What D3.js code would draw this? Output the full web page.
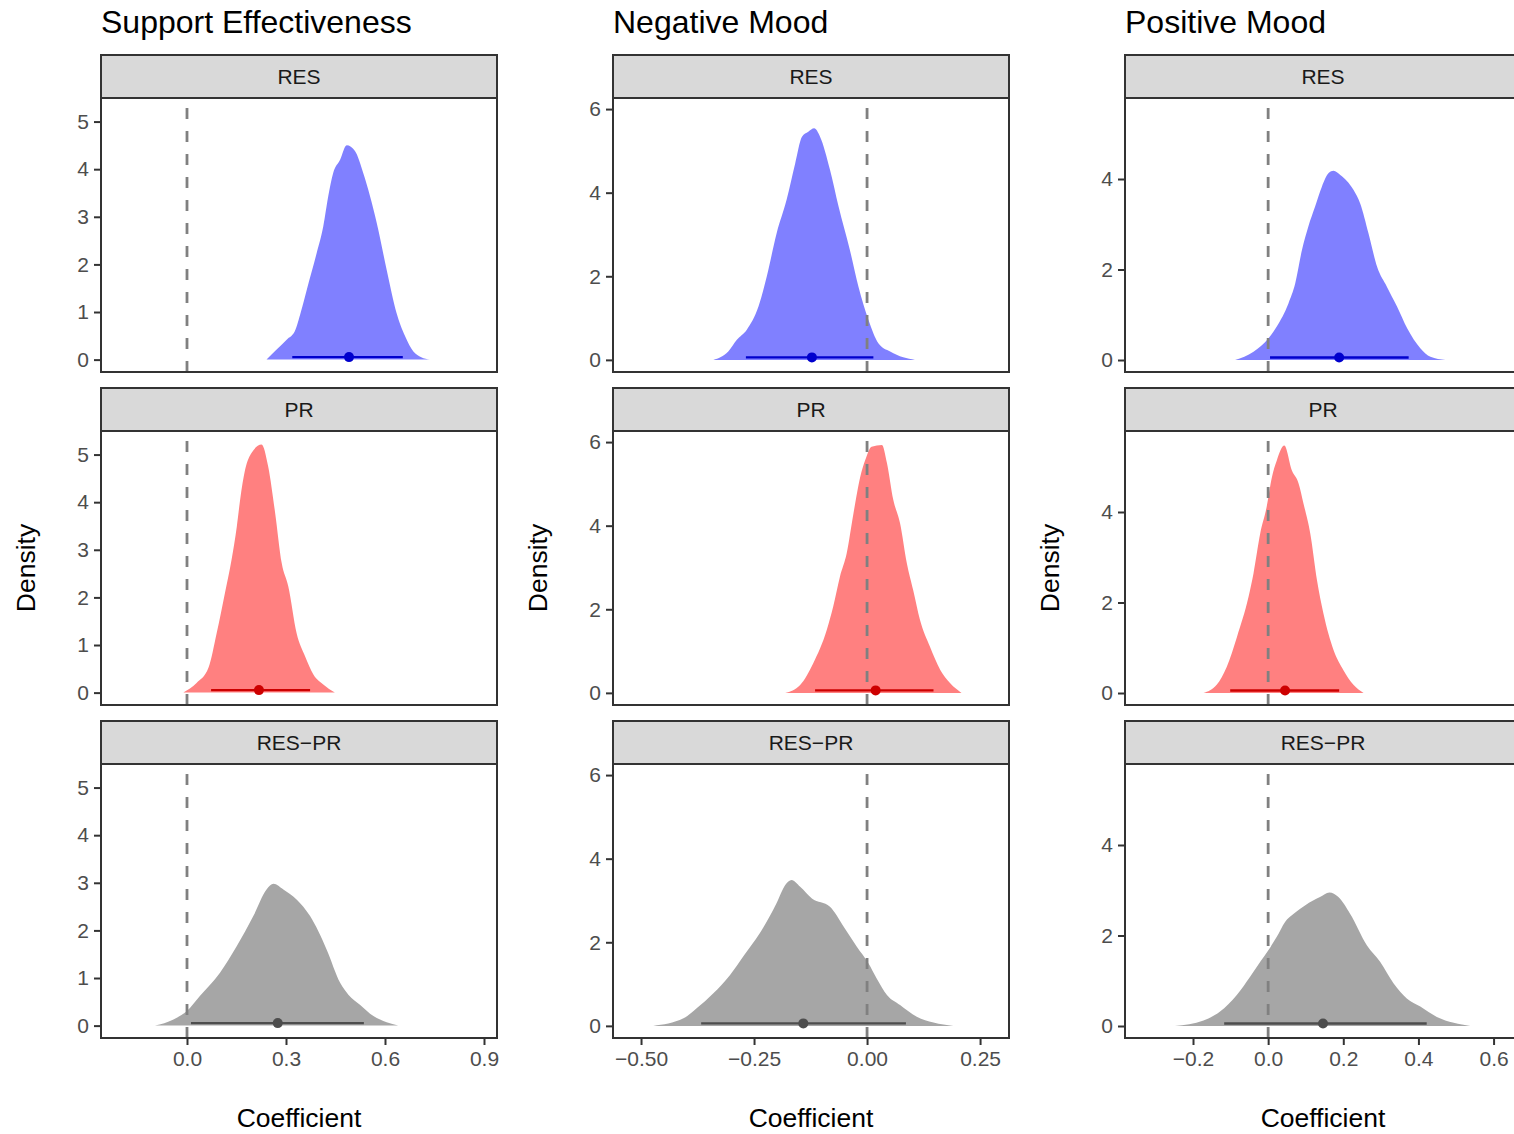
<!DOCTYPE html>
<html>
<head>
<meta charset="utf-8">
<script src="https://cdn.jsdelivr.net/npm/d3@7"></script>
<style>
  html, body { margin: 0; padding: 0; background: #fff; }
  svg { display: block; font-family: "Liberation Sans", Arial, Helvetica, sans-serif; }
</style>
</head>
<body>
<div id="container"></div>
<script>
// chart values
var measures = ["Support Effectiveness", "Negative Mood", "Positive Mood"];
var contrasts = ["RES", "PR", "RES\u2212PR"];

var xDomains = [[-0.2606, 0.9394], [-0.562, 0.314], [-0.381, 0.673]];
var yDomains = [[-0.26, 5.495], [-0.29, 6.265], [-0.265, 5.79]];
var xTicks = [[0, 0.3, 0.6, 0.9], [-0.5, -0.25, 0, 0.25], [-0.2, 0, 0.2, 0.4, 0.6]];
var xTickLabels = [["0.0", "0.3", "0.6", "0.9"], ["\u22120.50", "\u22120.25", "0.00", "0.25"], ["\u22120.2", "0.0", "0.2", "0.4", "0.6"]];
var yTicks = [[0, 1, 2, 3, 4, 5], [0, 2, 4, 6], [0, 2, 4]];

// density curves: [coefficient, density]
var seRES = [[0.241, 0], [0.27, 0.2], [0.302, 0.42], [0.327, 0.6], [0.345, 1.0], [0.363, 1.47], [0.393, 2.24], [0.413, 2.8], [0.428, 3.43],
  [0.443, 3.92], [0.464, 4.2], [0.484, 4.5], [0.509, 4.38], [0.534, 3.92], [0.575, 2.87], [0.605, 1.89], [0.635, 0.98],
  [0.661, 0.49], [0.686, 0.17], [0.71, 0.05], [0.736, 0]];
var sePR = [[-0.011, 0], [0.029, 0.2], [0.065, 0.52], [0.09, 1.25], [0.115, 2.09], [0.135, 2.79], [0.151, 3.49], [0.161, 4.05],
  [0.176, 4.68], [0.196, 5.04], [0.226, 5.21], [0.246, 4.75], [0.267, 3.78], [0.287, 2.72], [0.307, 2.23], [0.332, 1.25],
  [0.358, 0.76], [0.383, 0.38], [0.413, 0.17], [0.448, 0]];
var seDiff = [[-0.097, 0], [-0.041, 0.13], [-0.001, 0.3], [0.039, 0.62], [0.1, 1.11], [0.151, 1.67], [0.201, 2.3], [0.241, 2.86],
  [0.262, 2.98], [0.292, 2.86], [0.332, 2.65], [0.373, 2.3], [0.423, 1.6], [0.464, 0.9], [0.489, 0.65], [0.524, 0.44],
  [0.565, 0.2], [0.605, 0.07], [0.64, 0]];

var nmRES = [[-0.34, 0], [-0.307, 0.2], [-0.288, 0.48], [-0.266, 0.72], [-0.24, 1.28], [-0.222, 1.99], [-0.2, 3.03], [-0.178, 3.83],
  [-0.159, 4.7], [-0.144, 5.34], [-0.13, 5.46], [-0.117, 5.54], [-0.104, 5.34], [-0.082, 4.55], [-0.063, 3.67], [-0.038, 2.63],
  [-0.019, 1.75], [0.003, 0.96], [0.025, 0.4], [0.051, 0.2], [0.08, 0.06], [0.106, 0]];
var nmPR = [[-0.181, 0], [-0.148, 0.19], [-0.119, 0.71], [-0.089, 1.51], [-0.075, 2.06], [-0.06, 2.78], [-0.045, 3.34], [-0.03, 4.3],
  [-0.015, 5.17], [-0.004, 5.57], [0.01, 5.89], [0.033, 5.93], [0.044, 5.5], [0.058, 4.62], [0.073, 4.06], [0.088, 3.1],
  [0.102, 2.46], [0.117, 1.75], [0.139, 1.11], [0.162, 0.55], [0.184, 0.23], [0.209, 0]];
var nmDiff = [[-0.473, 0], [-0.406, 0.18], [-0.377, 0.42], [-0.34, 0.78], [-0.303, 1.22], [-0.274, 1.66], [-0.237, 2.22], [-0.2, 2.94],
  [-0.181, 3.37], [-0.167, 3.49], [-0.148, 3.33], [-0.122, 3.05], [-0.082, 2.85], [-0.052, 2.38], [-0.023, 1.9], [0.003, 1.5],
  [0.021, 1.14], [0.044, 0.74], [0.073, 0.5], [0.11, 0.22], [0.147, 0.08], [0.191, 0]];

var pmRES = [[-0.088, 0], [-0.039, 0.18], [0.001, 0.48], [0.023, 0.74], [0.054, 1.25], [0.072, 1.69], [0.09, 2.43], [0.107, 2.95],
  [0.125, 3.39], [0.143, 3.83], [0.161, 4.13], [0.174, 4.18], [0.192, 4.09], [0.227, 3.76], [0.245, 3.46], [0.267, 2.8],
  [0.29, 2.06], [0.316, 1.62], [0.343, 1.18], [0.37, 0.7], [0.405, 0.26], [0.432, 0.07], [0.472, 0]];
var pmPR = [[-0.172, 0], [-0.137, 0.18], [-0.11, 0.58], [-0.083, 1.24], [-0.052, 2.13], [-0.039, 2.64], [-0.021, 3.53], [-0.004, 4.11],
  [0.01, 4.77], [0.023, 5.14], [0.043, 5.47], [0.063, 4.92], [0.081, 4.63], [0.094, 4.19], [0.112, 3.53], [0.13, 2.49],
  [0.147, 1.76], [0.174, 0.95], [0.2, 0.51], [0.227, 0.18], [0.254, 0]];
var pmDiff = [[-0.248, 0], [-0.172, 0.12], [-0.128, 0.32], [-0.084, 0.68], [-0.048, 1.09], [-0.021, 1.42], [0.001, 1.68], [0.023, 1.97],
  [0.045, 2.3], [0.068, 2.48], [0.099, 2.67], [0.138, 2.85], [0.163, 2.95], [0.187, 2.85], [0.218, 2.48], [0.263, 1.78],
  [0.298, 1.42], [0.334, 0.94], [0.369, 0.61], [0.405, 0.43], [0.449, 0.2], [0.494, 0.07], [0.538, 0]];

var densities = [[seRES, sePR, seDiff], [nmRES, nmPR, nmDiff], [pmRES, pmPR, pmDiff]];

// intervals: [lower, point, upper]
var seIntervals = [[0.319, 0.491, 0.654], [0.073, 0.218, 0.373], [0.012, 0.275, 0.536]];
var nmIntervals = [[-0.268, -0.122, 0.014], [-0.115, 0.019, 0.147], [-0.367, -0.141, 0.086]];
var pmIntervals = [[0.005, 0.189, 0.374], [-0.101, 0.045, 0.189], [-0.117, 0.146, 0.422]];
var intervals = [seIntervals, nmIntervals, pmIntervals];

var fillColors = ["#8080ff", "#ff8080", "#a6a6a6"];
var lineColors = ["#0000cd", "#cd0000", "#4d4d4d"];

// layout
var width = 1514, height = 1134;
var colX = [101, 613, 1125];
var rowY = [55, 388, 721];
var panelW = 396, stripH = 43, panelH = 274;

var svg = d3.select("#container").append("svg")
  .attr("width", width)
  .attr("height", height)
  .attr("viewBox", "0 0 " + width + " " + height);

svg.append("rect").attr("width", width).attr("height", height).attr("fill", "#fff");

var defs = svg.append("defs");

measures.forEach(function (m, c) {
  var x = d3.scaleLinear().domain(xDomains[c]).range([colX[c], colX[c] + panelW]);

  // column title
  svg.append("text")
    .attr("x", colX[c])
    .attr("y", 33)
    .attr("font-size", 32)
    .attr("fill", "#000")
    .text(m);

  // y axis title
  svg.append("text")
    .attr("transform", "translate(" + (colX[c] - 66) + ",568) rotate(-90)")
    .attr("text-anchor", "middle")
    .attr("font-size", 26.5)
    .attr("fill", "#000")
    .text("Density");

  // x axis title
  svg.append("text")
    .attr("x", colX[c] + panelW / 2)
    .attr("y", 1127)
    .attr("text-anchor", "middle")
    .attr("font-size", 26.5)
    .attr("fill", "#000")
    .text("Coefficient");

  contrasts.forEach(function (k, r) {
    var top = rowY[r] + stripH;
    var y = d3.scaleLinear().domain(yDomains[c]).range([top + panelH, top]);
    var clipId = "clip-" + c + "-" + r;

    defs.append("clipPath").attr("id", clipId)
      .append("rect")
      .attr("x", colX[c]).attr("y", top)
      .attr("width", panelW).attr("height", panelH);

    var g = svg.append("g");
    var inner = g.append("g").attr("clip-path", "url(#" + clipId + ")");

    // density
    var area = d3.area()
      .x(function (d) { return x(d[0]); })
      .y0(y(0))
      .y1(function (d) { return y(d[1]); })
      .curve(d3.curveMonotoneX);

    inner.append("path")
      .datum(densities[c][r])
      .attr("d", area)
      .attr("fill", fillColors[r]);

    // reference line at zero (drawn bottom-up so the dash pattern starts at the bottom)
    inner.append("line")
      .attr("x1", x(0)).attr("x2", x(0))
      .attr("y1", top + panelH).attr("y2", top)
      .attr("stroke", "#808080")
      .attr("stroke-width", 2.8)
      .attr("stroke-dasharray", "11,12");

    // interval + point
    var iv = intervals[c][r];
    var iy = y(0) - 2.5;
    inner.append("line")
      .attr("x1", x(iv[0])).attr("x2", x(iv[2]))
      .attr("y1", iy).attr("y2", iy)
      .attr("stroke", lineColors[r])
      .attr("stroke-width", 2.3);
    inner.append("circle")
      .attr("cx", x(iv[1])).attr("cy", iy)
      .attr("r", 5)
      .attr("fill", lineColors[r]);

    // panel border
    g.append("rect")
      .attr("x", colX[c]).attr("y", top)
      .attr("width", panelW).attr("height", panelH)
      .attr("fill", "none")
      .attr("stroke", "#333")
      .attr("stroke-width", 2);

    // strip
    g.append("rect")
      .attr("x", colX[c]).attr("y", rowY[r])
      .attr("width", panelW).attr("height", stripH)
      .attr("fill", "#d9d9d9")
      .attr("stroke", "#333")
      .attr("stroke-width", 2);
    g.append("text")
      .attr("x", colX[c] + panelW / 2)
      .attr("y", rowY[r] + stripH / 2)
      .attr("dy", "0.36em")
      .attr("text-anchor", "middle")
      .attr("font-size", 21)
      .attr("fill", "#1a1a1a")
      .text(k);

    // y axis
    var yAxis = g.append("g")
      .attr("transform", "translate(" + colX[c] + ",0)")
      .call(d3.axisLeft(y).tickValues(yTicks[c]).tickSize(7).tickPadding(5).tickFormat(d3.format("d")));
    yAxis.select(".domain").remove();
    yAxis.selectAll(".tick line").attr("stroke", "#333").attr("stroke-width", 2);
    yAxis.selectAll(".tick text")
      .attr("font-size", 21)
      .attr("fill", "#4d4d4d")
      .attr("font-family", "Liberation Sans, Arial, sans-serif");

    // x axis only on bottom row
    if (r === contrasts.length - 1) {
      var xAxis = g.append("g")
        .attr("transform", "translate(0," + (top + panelH) + ")")
        .call(d3.axisBottom(x).tickValues(xTicks[c]).tickSize(7).tickPadding(6)
          .tickFormat(function (d, i) { return xTickLabels[c][i]; }));
      xAxis.select(".domain").remove();
      xAxis.selectAll(".tick line").attr("stroke", "#333").attr("stroke-width", 2);
      xAxis.selectAll(".tick text")
        .attr("font-size", 21)
        .attr("fill", "#4d4d4d")
        .attr("font-family", "Liberation Sans, Arial, sans-serif");
    }
  });
});
</script>
</body>
</html>
